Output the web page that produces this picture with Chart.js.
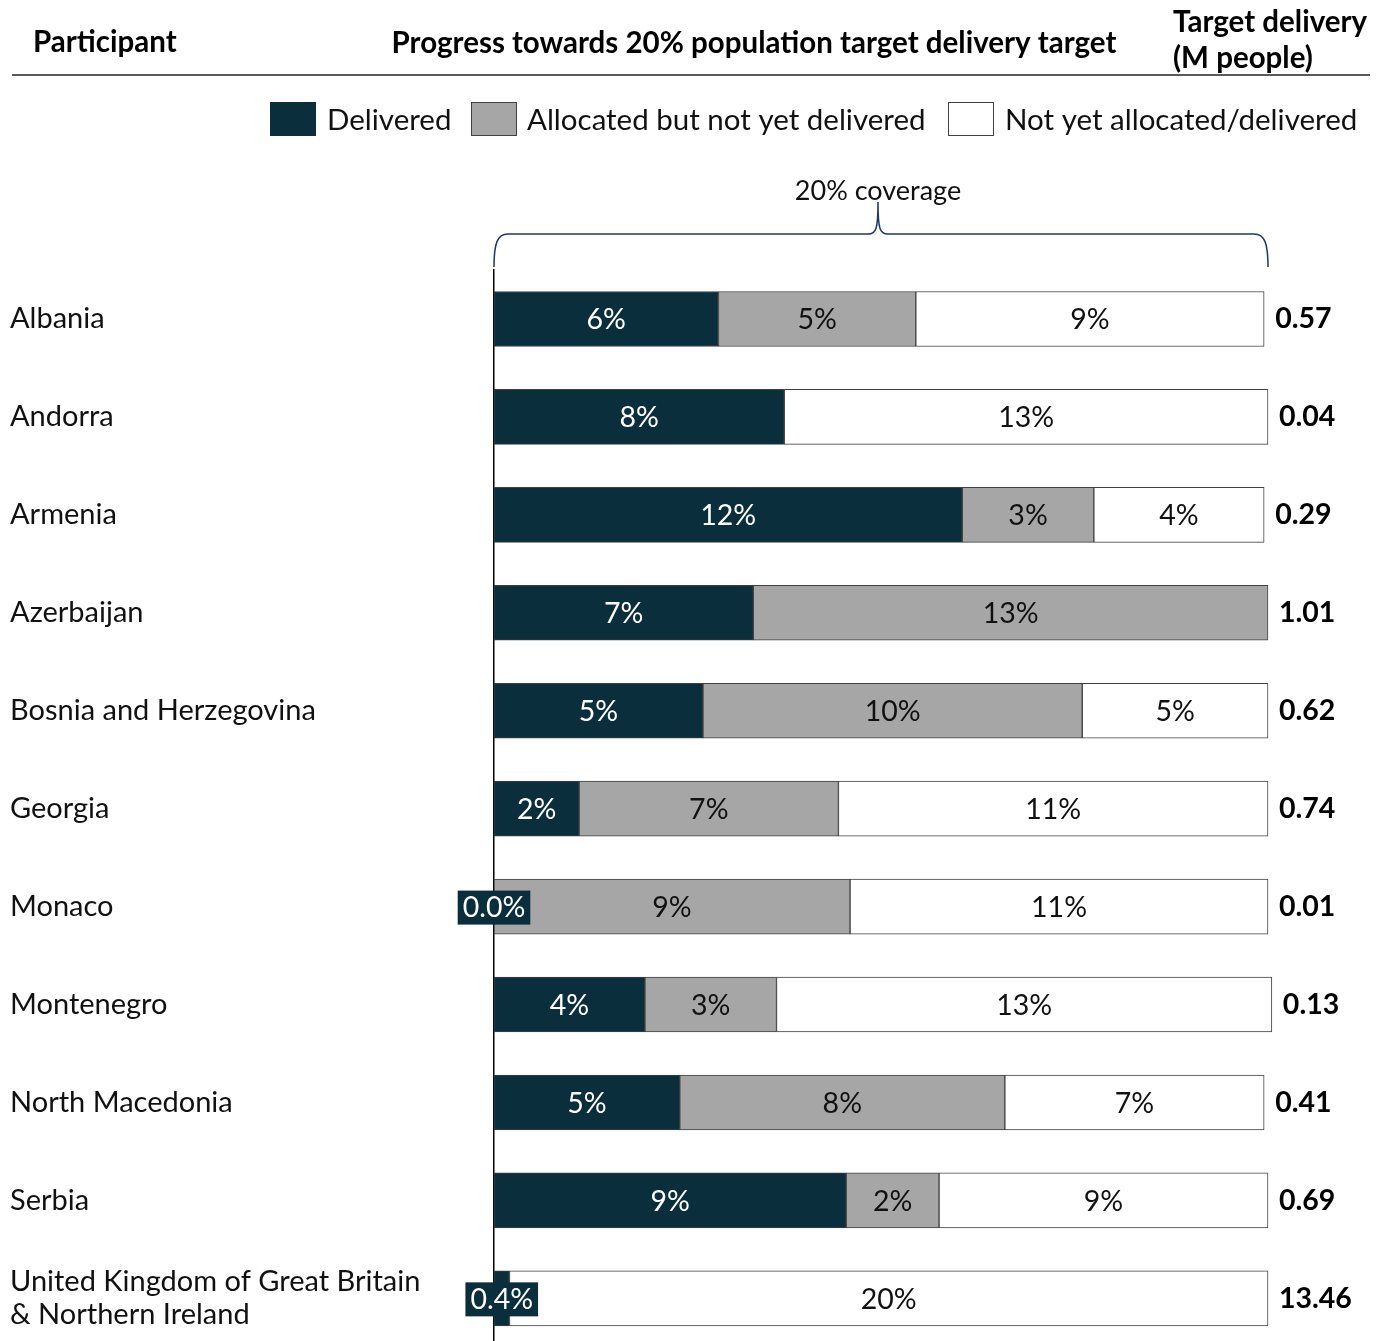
<!DOCTYPE html>
<html><head><meta charset="utf-8">
<script src="https://cdn.jsdelivr.net/npm/chart.js@4.4.1/dist/chart.umd.min.js"></script>
<style>
html,body{margin:0;padding:0;background:#fff;overflow:hidden;}
#wrap{position:relative;width:1378px;height:1364px;}
canvas{display:block;}
</style>
</head><body>
<div id="wrap"><canvas id="c" width="1378" height="1364"></canvas></div>
<script>
const categories = ['Albania','Andorra','Armenia','Azerbaijan','Bosnia and Herzegovina','Georgia','Monaco','Montenegro','North Macedonia','Serbia',['United Kingdom of Great Britain','& Northern Ireland']];
const delivered    = [5.8, 7.5, 12.1, 6.7, 5.4, 2.2, 0.0, 3.9, 4.8, 9.1, 0.4];
const allocated    = [5.1, 0,   3.4, 13.3, 9.8, 6.7, 9.2, 3.4, 8.4, 2.4, 0];
const notAllocated = [9.0, 12.5, 4.4, 0,   4.8, 11.1, 10.8, 12.8, 6.7, 8.5, 19.6];
const targetDelivery = ['0.57','0.04','0.29','1.01','0.62','0.74','0.01','0.13','0.41','0.69','13.46'];
const seriesNames = ['Delivered','Allocated but not yet delivered','Not yet allocated/delivered'];

const DARK = '#0b2e3c', GRAY = '#a6a6a6', WHITE = '#ffffff', EDGE = '#404040';
const FONT = 'Lato, "Open Sans", sans-serif';

const overlay = {
  id: 'overlay',
  afterDatasetsDraw(chart) {
    const ctx = chart.ctx;
    ctx.save();
    ctx.textAlign = 'center';
    ctx.textBaseline = 'middle';
    ctx.font = '28.5px ' + FONT;
    chart.data.datasets.forEach((ds, di) => {
      const meta = chart.getDatasetMeta(di);
      meta.data.forEach((bar, i) => {
        const v = ds.data[i];
        const cx = (bar.x + bar.base) / 2, cy = bar.y + 1;
        if (di === 0) {
          if (v < 1) {
            const txt = v.toFixed(1) + '%';
            const w = ctx.measureText(txt).width + 10;
            ctx.fillStyle = DARK;
            ctx.fillRect(cx - w / 2, bar.y - 16, w, 34);
            ctx.fillStyle = '#fff';
            ctx.fillText(txt, cx, cy);
          } else {
            ctx.fillStyle = '#fff';
            ctx.fillText(Math.round(v) + '%', cx, cy);
          }
        } else if (v > 0) {
          ctx.fillStyle = '#111';
          ctx.fillText(Math.round(v) + '%', cx, cy);
        }
      });
    });
    // target delivery values
    const last = chart.getDatasetMeta(chart.data.datasets.length - 1);
    ctx.font = 'bold 28.5px ' + FONT;
    ctx.textAlign = 'left';
    ctx.fillStyle = '#000';
    last.data.forEach((bar, i) => {
      ctx.fillText(targetDelivery[i], bar.x + 11, bar.y);
    });
    ctx.restore();
  },
  afterDraw(chart) {
    const ctx = chart.ctx;
    const xs = chart.scales.x;
    const x0 = xs.getPixelForValue(0), x1 = xs.getPixelForValue(20);
    const mid = (x0 + x1) / 2 - 3;
    ctx.save();
    // headers
    ctx.fillStyle = '#000';
    ctx.textBaseline = 'middle';
    ctx.font = 'bold 29.5px ' + FONT;
    ctx.textAlign = 'left';
    ctx.fillText('Participant', 33, 42);
    ctx.textAlign = 'center';
    ctx.fillText('Progress towards 20% population target delivery target', 754, 43);
    ctx.textAlign = 'left';
    ctx.fillText('Target delivery', 1173, 22);
    ctx.fillText('(M people)', 1173, 58);
    ctx.strokeStyle = '#595959';
    ctx.lineWidth = 2;
    ctx.beginPath(); ctx.moveTo(12, 75); ctx.lineTo(1370, 75); ctx.stroke();
    // legend
    const legX = [270, 471, 948];
    const txtX = [327, 527, 1005];
    const fills = [DARK, GRAY, WHITE];
    ctx.font = '29.5px ' + FONT;
    ctx.lineWidth = 1;
    for (let k = 0; k < 3; k++) {
      ctx.fillStyle = fills[k];
      ctx.fillRect(legX[k], 102, 46, 34);
      ctx.strokeStyle = k === 0 ? DARK : EDGE;
      ctx.strokeRect(legX[k] + 0.5, 102.5, 45, 33);
      ctx.fillStyle = '#111';
      ctx.textAlign = 'left';
      ctx.fillText(seriesNames[k], txtX[k], 120);
    }
    // brace
    ctx.strokeStyle = '#1f3864';
    ctx.lineWidth = 1.5;
    const yb = 267, yh = 234, yt = 202;
    ctx.beginPath();
    ctx.moveTo(x0, yb);
    ctx.bezierCurveTo(x0, 244, x0 + 3, yh, x0 + 14, yh);
    ctx.lineTo(mid - 10, yh);
    ctx.bezierCurveTo(mid - 2, yh, mid, yh - 4, mid, yt);
    ctx.bezierCurveTo(mid, yh - 4, mid + 2, yh, mid + 10, yh);
    ctx.lineTo(x1 - 14, yh);
    ctx.bezierCurveTo(x1 - 3, yh, x1, 244, x1, yb);
    ctx.stroke();
    ctx.fillStyle = '#111';
    ctx.font = '27px ' + FONT;
    ctx.textAlign = 'center';
    ctx.fillText('20% coverage', mid, 191);
    ctx.restore();
  }
};

const mk = (label, data, color) => ({
  label, data, backgroundColor: color, borderColor: EDGE, borderWidth: 1,
  borderSkipped: false, barThickness: 55, clip: false
});

new Chart(document.getElementById('c'), {
  type: 'bar',
  data: {
    labels: categories,
    datasets: [
      mk(seriesNames[0], delivered, DARK),
      mk(seriesNames[1], allocated, GRAY),
      mk(seriesNames[2], notAllocated, WHITE)
    ]
  },
  options: {
    indexAxis: 'y',
    responsive: false,
    animation: false,
    devicePixelRatio: 1,
    layout: { padding: { left: 10, right: 110, top: 270, bottom: 9 } },
    plugins: { legend: { display: false }, tooltip: { enabled: false } },
    scales: {
      x: { stacked: true, min: 0, max: 20, display: false },
      y: {
        stacked: true,
        grid: { display: false, drawTicks: false },
        border: { display: true, color: '#000', width: 1.5 },
        ticks: {
          crossAlign: 'far', padding: 0, color: '#111',
          font: { family: FONT, size: 29, lineHeight: 1.15 }
        },
        afterFit(scale) { scale.width = 484; }
      }
    }
  },
  plugins: [overlay]
});
</script>
</body></html>
